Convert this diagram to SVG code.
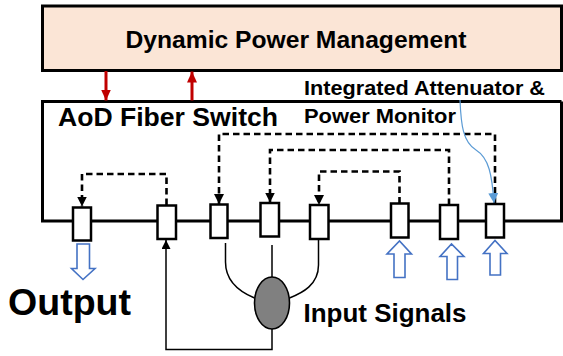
<svg xmlns="http://www.w3.org/2000/svg" width="563" height="356" viewBox="0 0 563 356">
  <defs>
    <style>
      .lbl { font-family: "Liberation Sans", Arial, sans-serif; font-weight: bold; fill: #000; }
      .port { fill: #fff; stroke: #000; stroke-width: 2.5; }
      .ctl { fill: none; stroke: #000; stroke-width: 2.6; stroke-dasharray: 6.5 4; }
      .fib { fill: none; stroke: #000; stroke-width: 1.5; }
      .sig { fill: #fff; stroke: #4472C4; stroke-width: 1.6; stroke-linejoin: miter; }
      .pwr { fill: none; stroke: #C00000; stroke-width: 3; }
    </style>
    <marker id="ahBlack" markerUnits="userSpaceOnUse" markerWidth="11" markerHeight="11" refX="10" refY="5" orient="auto">
      <path d="M0,0 L10,5 L0,10 Z" fill="#000"/>
    </marker>
    <marker id="ahSmall" markerUnits="userSpaceOnUse" markerWidth="10" markerHeight="9" refX="9" refY="4.5" orient="auto">
      <path d="M0,0 L9,4.5 L0,9 Z" fill="#000"/>
    </marker>
    <marker id="ahRed" markerUnits="userSpaceOnUse" markerWidth="12" markerHeight="11" refX="11" refY="5" orient="auto">
      <path d="M0,0 L11,5 L0,10 Z" fill="#C00000"/>
    </marker>
    <marker id="ahBlue" markerUnits="userSpaceOnUse" markerWidth="11" markerHeight="11" refX="10" refY="5" orient="auto">
      <path d="M0,0 L10,5 L0,10 Z" fill="#5B9BD5"/>
    </marker>
  </defs>

  <!-- controller block -->
  <g id="dpm">
    <rect x="42.5" y="6" width="519" height="64.5" fill="#FBE5D6" stroke="#000" stroke-width="3"/>
    <text class="lbl" x="296" y="47.5" font-size="23" text-anchor="middle" textLength="341" lengthAdjust="spacingAndGlyphs">Dynamic Power Management</text>
  </g>

  <!-- switch enclosure -->
  <g id="switch">
    <path d="M561.5,101.5 H42.5 V221 H561.5 V101.5" fill="#fff" stroke="#000" stroke-width="3"/>
    <text class="lbl" x="58" y="126" font-size="26" textLength="220" lengthAdjust="spacingAndGlyphs">AoD Fiber Switch</text>
  </g>

  <g id="monitor-label">
    <text class="lbl" x="304" y="95" font-size="21" textLength="241" lengthAdjust="spacingAndGlyphs">Integrated Attenuator &amp;</text>
    <text class="lbl" x="304" y="123.3" font-size="21" textLength="152" lengthAdjust="spacingAndGlyphs">Power Monitor</text>
  </g>

  <!-- connectors -->
  <g id="connectors">
    <!-- control / feedback between controller and switch -->
    <line class="pwr" x1="106" y1="71" x2="106" y2="100.5" marker-end="url(#ahRed)"/>
    <line class="pwr" x1="192" y1="100.5" x2="192" y2="71.5" marker-end="url(#ahRed)"/>

    <!-- internal switching paths -->
    <path class="ctl" d="M166.5,205 V174 H82 V206.5" marker-end="url(#ahBlack)"/>
    <path class="ctl" d="M495,204 V134 H219 V204" marker-end="url(#ahBlack)"/>
    <path class="ctl" d="M449,205 V150 H270 V202.5" marker-end="url(#ahBlack)"/>
    <path class="ctl" d="M399.5,203.5 V171.5 H319 V205" marker-end="url(#ahBlack)"/>

    <!-- monitor pointer -->
    <path d="M460,100 C461,125 463,142 476,150 C489,158 492,175 494,203" fill="none" stroke="#5B9BD5" stroke-width="1.2" marker-end="url(#ahBlue)"/>

    <!-- fibre bundle into the switch -->
    <path class="fib" d="M225.5,243 V262 C225.5,282 240,292 254.5,298"/>
    <line class="fib" x1="272" y1="245" x2="272" y2="277"/>
    <path class="fib" d="M318.5,240 V265 C318.5,285 302,293 289.5,298"/>
    <path class="fib" d="M272,329 V349.5 H166 V240" marker-end="url(#ahSmall)"/>

    <!-- signal direction arrows -->
    <path class="sig" d="M77,244 H89.5 V268.5 H95 L83,279.5 L71.5,268.5 H77 Z"/>
    <path class="sig" d="M394,277.5 H405 V254 H411.5 L399.5,241 L387,254 H394 Z"/>
    <path class="sig" d="M447,279.5 H457.5 V256.5 H464 L451.5,244 L440,256.5 H447 Z"/>
    <path class="sig" d="M490,275 H500.5 V253.5 H507 L495,240.5 L483.5,253.5 H490 Z"/>
  </g>

  <!-- ports -->
  <g id="port1"><rect class="port" x="73" y="207.5" width="18" height="33"/></g>
  <g id="port2"><rect class="port" x="157.5" y="205.5" width="18.5" height="33.5"/></g>
  <g id="port3"><rect class="port" x="210.5" y="204.5" width="17" height="33.5"/></g>
  <g id="port4"><rect class="port" x="260.5" y="203" width="18.5" height="33.5"/></g>
  <g id="port5"><rect class="port" x="310" y="205" width="18.5" height="34"/></g>
  <g id="port6"><rect class="port" x="391" y="203.5" width="17.5" height="34"/></g>
  <g id="port7"><rect class="port" x="440" y="205" width="18" height="34"/></g>
  <g id="port8"><rect class="port" x="486" y="204" width="18" height="33.5"/></g>

  <!-- signal source -->
  <g id="source">
    <ellipse cx="272" cy="303" rx="17.5" ry="26" fill="#808080" stroke="#000" stroke-width="1.6"/>
    <text class="lbl" x="303.5" y="321.7" font-size="25.5" textLength="163" lengthAdjust="spacingAndGlyphs">Input Signals</text>
  </g>

  <g id="output">
    <text class="lbl" x="8" y="315" font-size="37" textLength="123" lengthAdjust="spacingAndGlyphs">Output</text>
  </g>
</svg>
